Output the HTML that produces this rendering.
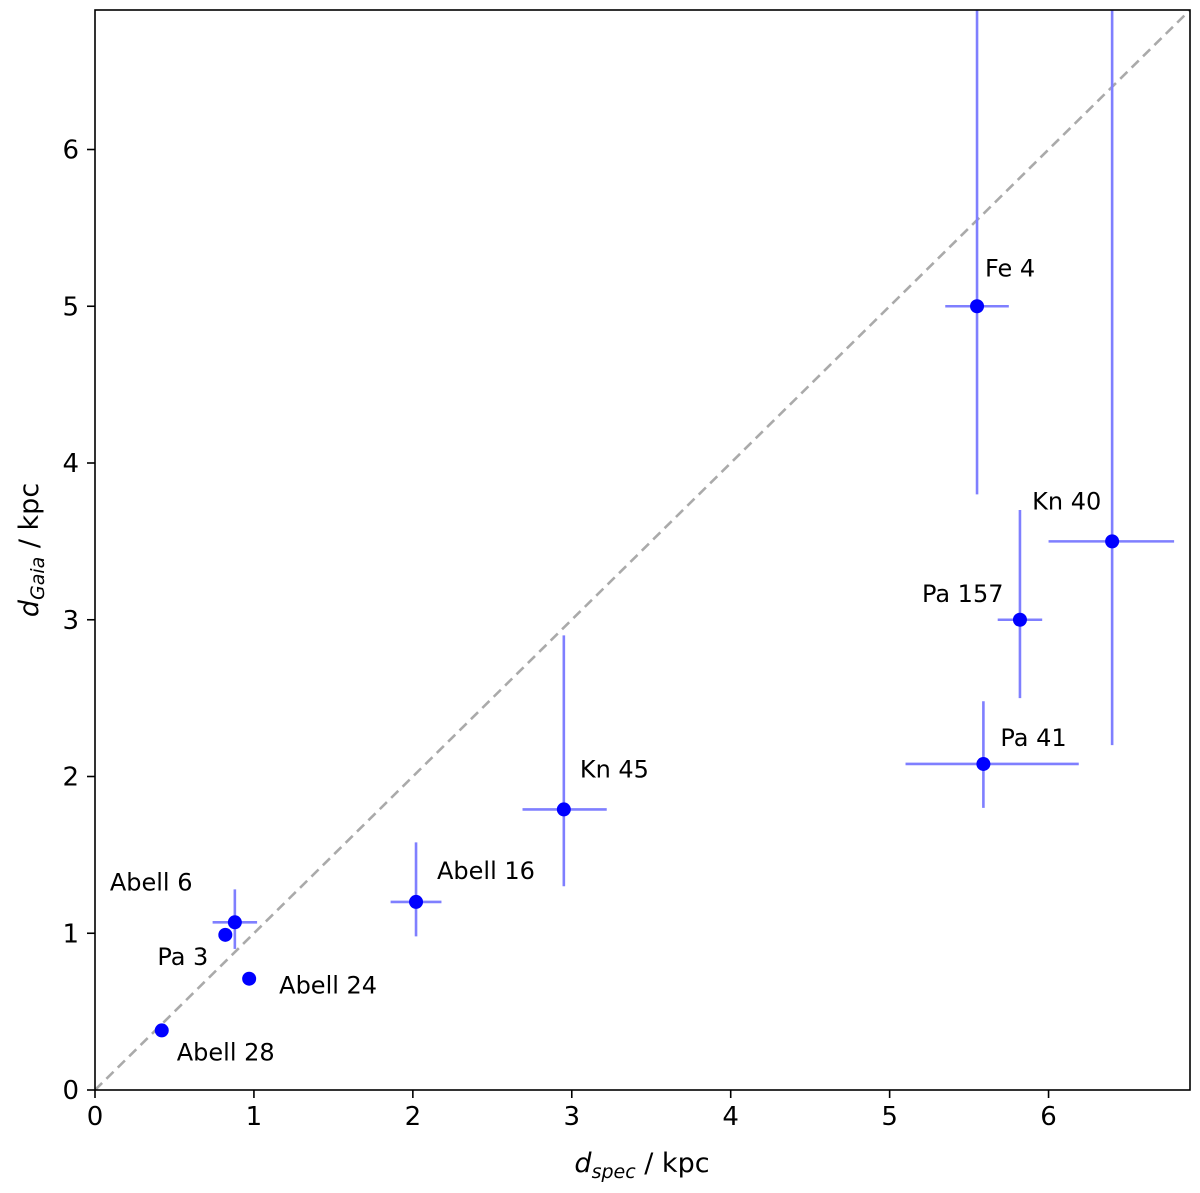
<!DOCTYPE html>
<html><head><meta charset="utf-8"><style>
body{margin:0;background:#fff}
svg{display:block;font-family:"DejaVu Sans","Liberation Sans",sans-serif}
</style></head><body>
<svg id="chart" width="1200" height="1193" xmlns="http://www.w3.org/2000/svg">
</svg>
<script>
const names=["Fe 4","Kn 40","Pa 157","Pa 41","Kn 45","Abell 16","Abell 6","Pa 3","Abell 24","Abell 28"];
const xVals=[5.55,6.40,5.82,5.59,2.95,2.02,0.88,0.82,0.97,0.42];
const yVals=[5.0,3.5,3.0,2.08,1.79,1.2,1.07,0.99,0.71,0.38];
const xLo=[5.35,6.0,5.68,5.10,2.69,1.86,0.74,null,null,null];
const xHi=[5.75,6.79,5.96,6.19,3.22,2.18,1.02,null,null,null];
const yLo=[3.8,2.2,2.5,1.8,1.3,0.98,0.9,null,null,null];
const yHi=[9,9,3.7,2.48,2.9,1.58,1.28,null,null,null];
const xTicks=[0,1,2,3,4,5,6];
const yTicks=[0,1,2,3,4,5,6];
const labelDx=[8,-80,-98,17,16,21,-125,-68,30,15];
const labelDy=[-30,-32,-18,-18,-32,-23,-32,30,15,30];
const L=95,R=1190,T=10,B=1090,MAX=6.89;
const sx=v=>L+(v/MAX)*(R-L);
const sy=v=>B-(v/MAX)*(B-T);
const svg=document.getElementById('chart');
const NS="http://www.w3.org/2000/svg";
function mk(tag,attrs,parent){const e=document.createElementNS(NS,tag);for(const k in attrs)e.setAttribute(k,attrs[k]);(parent||svg).appendChild(e);return e;}
const defs=mk('defs',{});const cp=mk('clipPath',{id:'clip'},defs);mk('rect',{x:L,y:T,width:R-L,height:B-T},cp);
const plot=mk('g',{'clip-path':'url(#clip)'});
const diag=mk('line',{x1:sx(0),y1:sy(0),x2:sx(MAX),y2:sy(MAX),stroke:'#aaaaaa','stroke-width':2.6,'stroke-dasharray':'10,6'},plot);


for(let i=0;i<names.length;i++){
 const g=mk('g',{},plot);
 
 
 if(xLo[i]!==null){
  mk('line',{x1:sx(xLo[i]),x2:sx(xHi[i]),y1:sy(yVals[i]),y2:sy(yVals[i]),stroke:'#7f7fff','stroke-width':2.6},g);
  mk('line',{x1:sx(xVals[i]),x2:sx(xVals[i]),y1:sy(yLo[i]),y2:sy(yHi[i]),stroke:'#7f7fff','stroke-width':2.6},g);
 }
 mk('circle',{cx:sx(xVals[i]),cy:sy(yVals[i]),r:7,fill:'#0000ff'},g);
}
for(let i=0;i<names.length;i++){
 const t=mk('text',{x:sx(xVals[i])+labelDx[i],y:sy(yVals[i])+labelDy[i],'font-size':24,fill:'#000'});
 t.textContent=names[i];
 
 
}
const frame=mk('rect',{x:L,y:T,width:R-L,height:B-T,fill:'none',stroke:'#000','stroke-width':1.6});


xTicks.forEach(v=>{
 mk('line',{x1:sx(v),x2:sx(v),y1:B,y2:B+8,stroke:'#000','stroke-width':1.6});
 const t=mk('text',{x:sx(v),y:B+35,'font-size':26,'text-anchor':'middle'});t.textContent=v;
 
 
});
yTicks.forEach(v=>{
 mk('line',{x1:L-8,x2:L,y1:sy(v),y2:sy(v),stroke:'#000','stroke-width':1.6});
 const t=mk('text',{x:L-16,y:sy(v)+9,'font-size':26,'text-anchor':'end'});t.textContent=v;
 
 
});
const xl=mk('text',{x:642,y:1172,'font-size':27,'text-anchor':'middle'});
xl.innerHTML='<tspan font-style="italic">d</tspan><tspan font-style="italic" font-size="19" dy="6">spec</tspan><tspan dy="-6"> / kpc</tspan>';


const yl=mk('text',{x:0,y:0,'font-size':27,'text-anchor':'middle',transform:'translate(38,550) rotate(-90)'});
yl.innerHTML='<tspan font-style="italic">d</tspan><tspan font-style="italic" font-size="19" dy="6">Gaia</tspan><tspan dy="-6"> / kpc</tspan>';


</script>
</body></html>
